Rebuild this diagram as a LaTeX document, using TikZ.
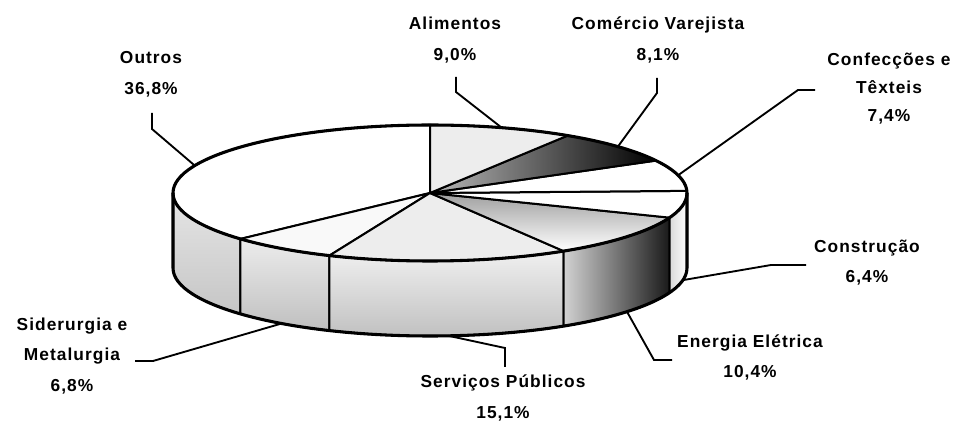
\documentclass[tikz,border=0pt]{standalone}
\usepackage{fontspec}
\newfontfamily\lblfont[LetterSpace=6]{Liberation Sans}
\usetikzlibrary{calc}
\newcommand{\Rx}{257}
\newcommand{\Ry}{68}
\newcommand{\topslice}[3]{\draw[pieline,#3] (c) -- ($(c)+(#1:\Rx\space and \Ry)$) arc[start angle=#1,end angle=#2,x radius=\Rx,y radius=\Ry] -- cycle;}
\newcommand{\sideface}[3]{\draw[pieline,#3] ($(c)+(#1:\Rx\space and \Ry)$) arc[start angle=#1,end angle=#2,x radius=\Rx,y radius=\Ry] -- ($(d)+(#2:\Rx\space and \Ry)$) arc[start angle=#2,end angle=#1,x radius=\Rx,y radius=\Ry] -- cycle;}
\tikzset{
 pieline/.style={line width=1.5pt,line join=round},
 pieout/.style={line width=2.3pt,line join=round},
 lead/.style={line width=1.4pt},
 lbl/.style={font=\lblfont\bfseries\fontsize{13}{23}\selectfont,align=center,inner sep=0pt},
 stip/.style={fill=gray!14},
}

\begin{document}
\begin{tikzpicture}[x=0.75pt,y=0.75pt]
\fill[white] (0,0) rectangle (965,425);
\useasboundingbox (0,0) rectangle (965,425);
\coordinate (c) at (430,232);
\coordinate (d) at (430,157);
\sideface{180}{222.48}{top color=gray!20,bottom color=gray!45}
\sideface{222.48}{246.96}{top color=gray!15,bottom color=gray!50}
\sideface{246.96}{301.32}{top color=gray!12,bottom color=gray!50}
\sideface{301.32}{338.76}{left color=gray!35,middle color=white,right color=black!90}
\sideface{338.76}{360}{left color=gray!30,right color=white}
\topslice{90}{222.48}{fill=white}
\topslice{222.48}{246.96}{fill=gray!5}
\topslice{246.96}{301.32}{stip}
\topslice{301.32}{338.76}{top color=gray!75,bottom color=white}
\topslice{338.76}{361.8}{fill=white}
\topslice{361.8}{388.44}{fill=white}
\topslice{388.44}{417.6}{left color=gray!55,middle color=gray!10,right color=black}
\topslice{417.6}{450}{stip}
\draw[pieout] (c) ellipse[x radius=\Rx,y radius=\Ry];
\draw[pieout] ($(c)+(180:\Rx\space and \Ry)$) -- ($(d)+(180:\Rx\space and \Ry)$) arc[start angle=180,end angle=360,x radius=\Rx,y radius=\Ry] -- ($(c)+(0:\Rx\space and \Ry)$);

\foreach \n/\o/\ang/\kx/\ky/\ex/\ey in {ou/c/156.24/152/296/152/312, al/c/73.8/456/333/456/348, co/c/43.02/657/332/657/347, cf/c/15.12/798/335/815/335, cs/d/349.71/771/160/806/160, en/d/320.04/654/65/672/65, se/d/274.14/505/77/505/58, si/d/234.72/153/64/135/64} {
 \coordinate (r\n) at ($(\o)+(\ang:\Rx\space and \Ry)$);
 \coordinate (k\n) at (\kx,\ky);
 \coordinate (e\n) at (\ex,\ey);
 \draw[lead] (r\n) -- (k\n) -- (e\n);
}

\node[lbl] (outros) at (151,350.5) {Outros\\36,8\%};
\node[lbl] (alimentos) at (455,385) {Alimentos\\9,0\%};
\node[lbl] (comercio) at (658,385) {Comércio Varejista\\8,1\%};
\node[lbl,font=\lblfont\bfseries\fontsize{13}{21}\selectfont] (confec) at (889,336) {Confecções e\\Têxteis\\7,4\%};
\node[lbl] (constr) at (867,162.5) {Construção\\6,4\%};
\node[lbl] (energia) at (750,67.5) {Energia Elétrica\\10,4\%};
\node[lbl] (servicos) at (503,27) {Serviços Públicos\\15,1\%};
\node[lbl] (siderurgia) at (72,69) {Siderurgia e\\Metalurgia\\6,8\%};
\end{tikzpicture}
\end{document}
